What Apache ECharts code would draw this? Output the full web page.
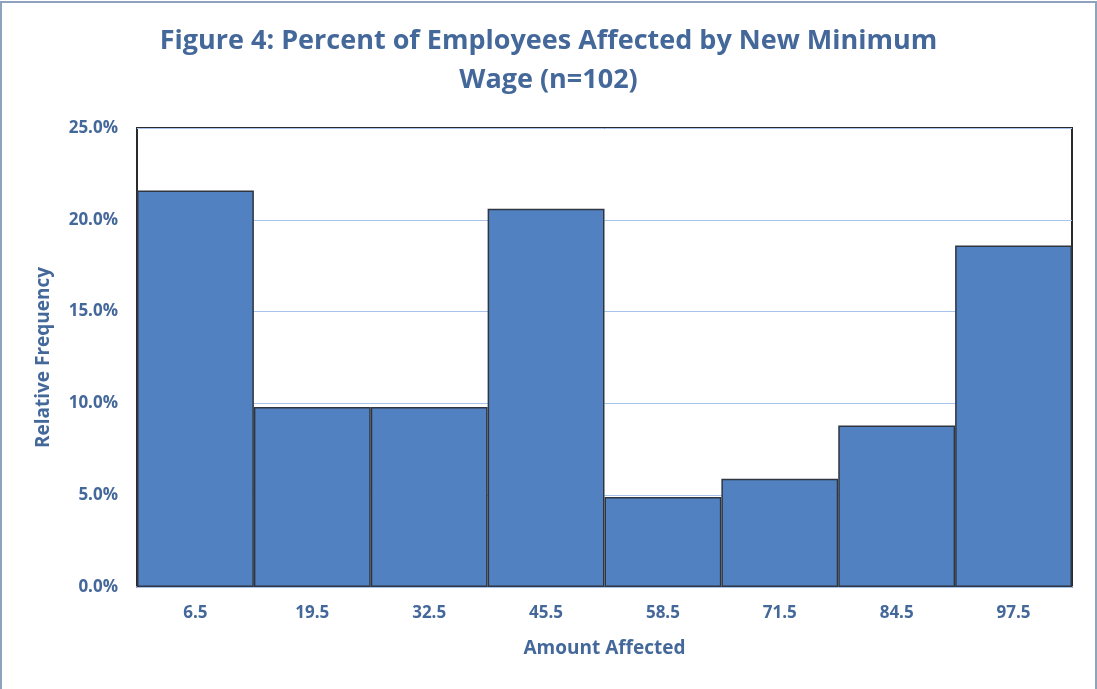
<!DOCTYPE html>
<html><head><meta charset="utf-8">
<script src="https://cdn.jsdelivr.net/npm/echarts@6/dist/echarts.min.js"></script>
<style>html,body{margin:0;padding:0;background:#fff}#c{width:1097px;height:689px}</style>
</head><body><div id="c"></div>
<script>
const categories = ['6.5','19.5','32.5','45.5','58.5','71.5','84.5','97.5'];
const relFreq = [21.6, 9.8, 9.8, 20.6, 4.9, 5.9, 8.8, 18.6];
const titleText = 'Figure 4: Percent of Employees Affected by New Minimum\nWage (n=102)';
const xName = 'Amount Affected';
const yName = 'Relative Frequency';

const txt = '#44689a';
const font = '"Open Sans", "Liberation Sans", sans-serif';
const chart = echarts.init(document.getElementById('c'), null, {renderer:'canvas'});
chart.setOption({
  animation:false,
  backgroundColor:'#fff',
  graphic:[{type:'rect', shape:{x:1,y:2,width:1095,height:700}, style:{fill:'none', stroke:'#8ea3bd', lineWidth:2}, silent:true}],
  title:{text:titleText, left:'center', top:17, textStyle:{color:txt, fontFamily:font, fontWeight:'bold', fontSize:27, lineHeight:39}},
  grid:{left:137, right:25, top:128, bottom:102, show:true, borderColor:'#2b2b2b', borderWidth:2, backgroundColor:'transparent'},
  xAxis:{type:'category', data:categories, name:xName, nameLocation:'middle', nameGap:52,
    nameTextStyle:{color:txt, fontFamily:font, fontWeight:'bold', fontSize:19},
    axisLine:{show:true, lineStyle:{color:'#a9c4ec', width:2}}, axisTick:{show:false},
    axisLabel:{color:txt, fontFamily:font, fontWeight:'bold', fontSize:17, margin:18}},
  yAxis:{type:'value', min:0, max:25, interval:5, name:yName, nameLocation:'middle', nameGap:84,
    nameTextStyle:{color:txt, fontFamily:font, fontWeight:'bold', fontSize:19},
    axisLine:{show:false}, axisTick:{show:false},
    splitLine:{show:true, lineStyle:{color:'#a9c4ec', width:1}},
    axisLabel:{color:txt, fontFamily:font, fontWeight:'bold', fontSize:17, margin:19, formatter:v=>v.toFixed(1)+'%'}},
  series:[{type:'bar', data:relFreq, barCategoryGap:'0%',
    itemStyle:{color:'#5281c2', borderColor:'#2f3640', borderWidth:1.5}}]
});
</script></body></html>
